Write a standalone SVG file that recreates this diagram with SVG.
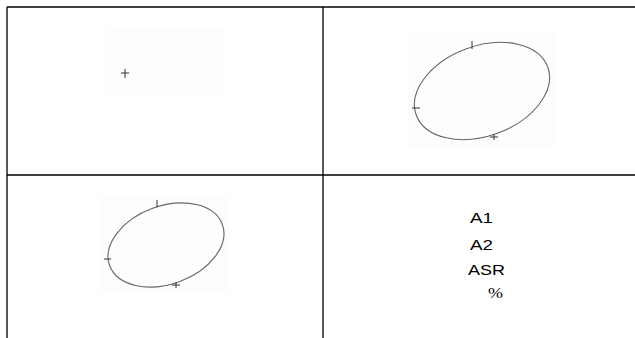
<svg xmlns="http://www.w3.org/2000/svg" width="635" height="338" viewBox="0 0 635 338">
<style>
.grid{stroke:#000;stroke-width:1.3;fill:none}
.bg{fill:#fdfdfd}
.ell{fill:none;stroke:#666;stroke-width:1.1}
.tick{stroke:#333;stroke-width:1}
.t{font-family:"Liberation Sans",Arial,sans-serif;font-size:15px;fill:#000}
.p{font-family:"Liberation Serif","Times New Roman",serif;font-size:15px;fill:#000}
</style>
<g id="grid">
<line class="grid" x1="7" y1="7" x2="635" y2="7"/>
<line class="grid" x1="7" y1="7" x2="7" y2="338"/>
<line class="grid" x1="323" y1="7" x2="323" y2="338"/>
<line class="grid" x1="7" y1="175" x2="635" y2="175"/>
</g>
<g id="panel1">
<rect class="bg" x="105" y="29" width="121" height="69"/>
<line class="tick" x1="121" y1="73" x2="129" y2="73"/>
<line class="tick" x1="125" y1="69" x2="125" y2="78"/>
</g>
<g id="panel2">
<rect class="bg" x="407" y="33" width="149" height="114"/>
<ellipse class="ell" cx="482" cy="91" rx="70" ry="45" transform="rotate(-20 482 91)"/>
<line class="tick" x1="472" y1="41" x2="472" y2="49"/>
<line class="tick" x1="412" y1="108" x2="420" y2="108"/>
<line class="tick" x1="490" y1="137" x2="498" y2="137"/>
<line class="tick" x1="494" y1="134" x2="494" y2="140"/>
</g>
<g id="panel3">
<rect class="bg" x="100" y="195" width="129" height="98"/>
<ellipse class="ell" cx="166" cy="245" rx="60" ry="39" transform="rotate(-20 166 245)"/>
<line class="tick" x1="157" y1="200" x2="157" y2="207"/>
<line class="tick" x1="104" y1="259" x2="111" y2="259"/>
<line class="tick" x1="172" y1="285" x2="180" y2="285"/>
<line class="tick" x1="176" y1="282" x2="176" y2="288"/>
</g>
<g id="panel4">
<text class="t" x="470" y="223" textLength="23" lengthAdjust="spacingAndGlyphs">A1</text>
<text class="t" x="470" y="250" textLength="23" lengthAdjust="spacingAndGlyphs">A2</text>
<text class="t" x="468" y="275" textLength="37" lengthAdjust="spacingAndGlyphs">ASR</text>
<text class="p" x="488" y="298" textLength="15" lengthAdjust="spacingAndGlyphs">%</text>
</g>
</svg>
